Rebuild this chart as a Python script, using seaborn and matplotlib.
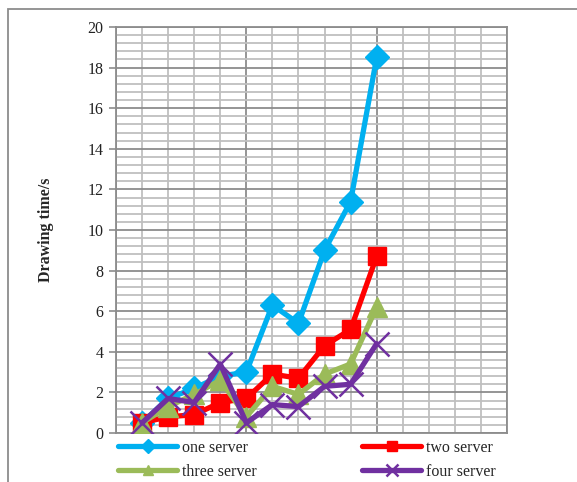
import numpy as np
import pandas as pd
import matplotlib
matplotlib.use("Agg")
import matplotlib.pyplot as plt
from matplotlib.patches import Rectangle
from matplotlib.ticker import MultipleLocator
import seaborn as sns

# Drawing time (s) for each run, by number of servers
runs = [1, 2, 3, 4, 5, 6, 7, 8, 9, 10]
one_server = [0.5, 1.7, 2.2, 2.8, 3.0, 6.3, 5.4, 9.0, 11.4, 18.5]
two_server = [0.5, 0.8, 0.9, 1.5, 1.7, 2.9, 2.7, 4.3, 5.1, 8.7]
three_server = [0.5, 1.3, 1.9, 2.6, 0.8, 2.3, 1.9, 2.9, 3.4, 6.2]
four_server = [0.5, 1.7, 1.5, 3.4, 0.5, 1.4, 1.3, 2.3, 2.4, 4.4]

series_names = ["one server", "two server", "three server", "four server"]
series_values = [one_server, two_server, three_server, four_server]
y_ticks = [0, 2, 4, 6, 8, 10, 12, 14, 16, 18, 20]
y_label = "Drawing time/s"

colors = ["#00B0F0", "#FF0000", "#9BBB59", "#7030A0"]
markers = ["D", "s", "^", "x"]
msizes = [12.5, 13, 14, 17]
mews = [1, 1, 1, 1.8]

sns.set_theme(style="white")
plt.rcParams["font.family"] = ["Liberation Serif", "DejaVu Serif"]

fig = plt.figure(figsize=(5.77, 4.82), dpi=100)
W, H = 577, 482
ax = fig.add_axes([116 / W, 1 - 433 / H, (507 - 116) / W, (433 - 27) / H])

df = pd.DataFrame({"run": runs})
for name, vals, c, m, ms, mew in zip(series_names, series_values, colors, markers, msizes, mews):
    df[name] = vals
    sns.lineplot(data=df, x="run", y=name, ax=ax, color=c, linewidth=3.8,
                 marker=m, markersize=ms, markeredgecolor=c, markeredgewidth=mew,
                 label=name, legend=False, zorder=3)

ax.set_xlim(0, 15)
ax.set_ylim(0, 20)
ax.xaxis.set_major_locator(MultipleLocator(5))
ax.xaxis.set_minor_locator(MultipleLocator(1))
ax.yaxis.set_major_locator(MultipleLocator(2))
ax.yaxis.set_minor_locator(MultipleLocator(0.4))
ax.set_yticks(y_ticks)

ax.grid(which="minor", color="#BFBFBF", linewidth=1.3, zorder=0)
ax.grid(which="major", color="#8C8C8C", linewidth=1.3, zorder=1)
ax.set_axisbelow(True)

for sp in ax.spines.values():
    sp.set_color("#8C8C8C")
    sp.set_linewidth(1.3)

ax.tick_params(axis="x", which="both", bottom=False, labelbottom=False)
ax.tick_params(axis="y", which="major", left=True, length=5, width=1.2,
               color="#8C8C8C", labelsize=11.5, labelcolor="#222222", pad=4)
ax.tick_params(axis="y", which="minor", left=False)
ax.set_xlabel("")
ax.set_ylabel(y_label, fontsize=11.5, fontweight="bold", labelpad=24)

# legend filled row by row: one | two, three | four
handles, labels = ax.get_legend_handles_labels()
order = [0, 2, 1, 3]
fig.legend([handles[i] for i in order], [labels[i] for i in order],
           ncol=2, loc="upper left",
           bbox_to_anchor=(118 / W, 1 - 440 / H), frameon=False,
           fontsize=11.5, handlelength=3.7, handletextpad=0.3,
           columnspacing=6.6, labelspacing=0.5, markerscale=0.55,
           borderaxespad=0, borderpad=0)

# outer frame around the chart
fig.patches.append(Rectangle((7.5 / W, -0.1), 1.5, 1.1 - 9 / H,
                             transform=fig.transFigure, fill=False,
                             edgecolor="#8C8C8C", linewidth=1.3))

fig.savefig("out.png", dpi=100)
